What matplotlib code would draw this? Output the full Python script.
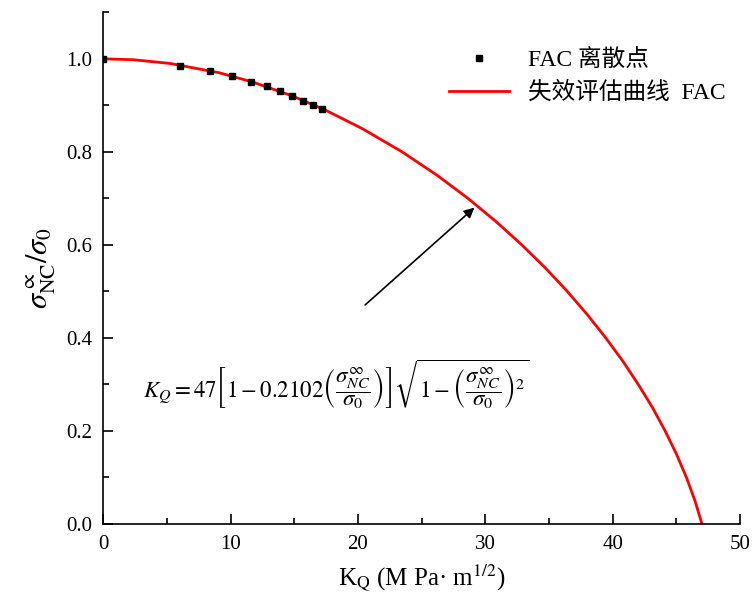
import matplotlib
matplotlib.use('Agg')
import matplotlib.pyplot as plt
from matplotlib.ticker import MultipleLocator

plt.rcParams['font.family'] = ['Liberation Serif', 'Noto Sans CJK SC']
plt.rcParams['mathtext.fontset'] = 'stix'

# FAC discrete points
pt_k = [0.0, 6.0, 8.4, 10.15, 11.6, 12.85, 13.9, 14.8, 15.7, 16.5, 17.2]
pt_s = [1.0, 0.985, 0.973, 0.962, 0.950, 0.942, 0.930, 0.920, 0.910, 0.901, 0.892]

# failure assessment curve
curve_s = [1.0, 0.998, 0.99, 0.97, 0.95, 0.92, 0.89, 0.85, 0.80, 0.75, 0.70, 0.65,
           0.60, 0.55, 0.50, 0.45, 0.40, 0.35, 0.30, 0.25, 0.20, 0.15, 0.10, 0.05, 0.0]
curve_k = [0.0, 2.35, 5.25, 9.10, 11.74, 14.86, 17.42, 20.33, 23.46, 26.19, 28.63, 30.84,
           32.86, 34.72, 36.43, 38.00, 39.45, 40.79, 42.00, 43.12, 44.11, 45.00, 45.78, 46.45, 47.0]

fig = plt.figure(figsize=(7.53, 6.14), dpi=100)
ax = fig.add_axes([0.137, 0.1466, 0.846, 0.8334])

ax.plot(pt_k, pt_s, 's', color='black', markersize=5, label='FAC 离散点', zorder=3)
ax.plot(curve_k, curve_s, '-', color='red', linewidth=2, label='失效评估曲线  FAC')

ax.set_xlim(0, 50)
ax.set_ylim(0, 1.1)
ax.xaxis.set_major_locator(MultipleLocator(10))
ax.xaxis.set_minor_locator(MultipleLocator(5))
ax.yaxis.set_minor_locator(MultipleLocator(0.1))
ax.set_yticks([0, 0.2, 0.4, 0.6, 0.8, 1.0])
ax.yaxis.set_major_formatter(plt.FuncFormatter(lambda v, p: '%.1f' % v))
ax.tick_params(which='major', direction='in', length=7, width=1.2, labelsize=15, pad=8)
ax.tick_params(which='minor', direction='in', length=4, width=1.2)
ax.spines['top'].set_visible(False)
ax.spines['right'].set_visible(False)
ax.spines['left'].set_linewidth(1.2)
ax.spines['bottom'].set_linewidth(1.2)

ax.set_xlabel(r'K$_\mathrm{Q}$ (M Pa· m$^{1/2}$)', fontsize=18, labelpad=6)
ax.set_ylabel(r'$\sigma^{\propto}_{\mathrm{NC}}/\sigma_0$', fontsize=22, labelpad=6)

ax.annotate('', xy=(29.3, 0.684), xytext=(20.4, 0.467),
            arrowprops=dict(arrowstyle='-|>', color='black', lw=1.2, mutation_scale=15))

ax.text(3.1, 0.30,
        r'$K_Q=47\left[1-0.2102\left(\dfrac{\sigma_{NC}^{\infty}}{\sigma_0}\right)\right]'
        r'\sqrt{1-\left(\dfrac{\sigma_{NC}^{\infty}}{\sigma_0}\right)^2}$',
        fontsize=16.5, va='center', ha='left')

ax.legend(loc='upper right', bbox_to_anchor=(1.01, 0.97), frameon=False, fontsize=17,
          handlelength=2.55, handletextpad=0.8, labelspacing=0.45)

fig.savefig('out.png', dpi=100)
